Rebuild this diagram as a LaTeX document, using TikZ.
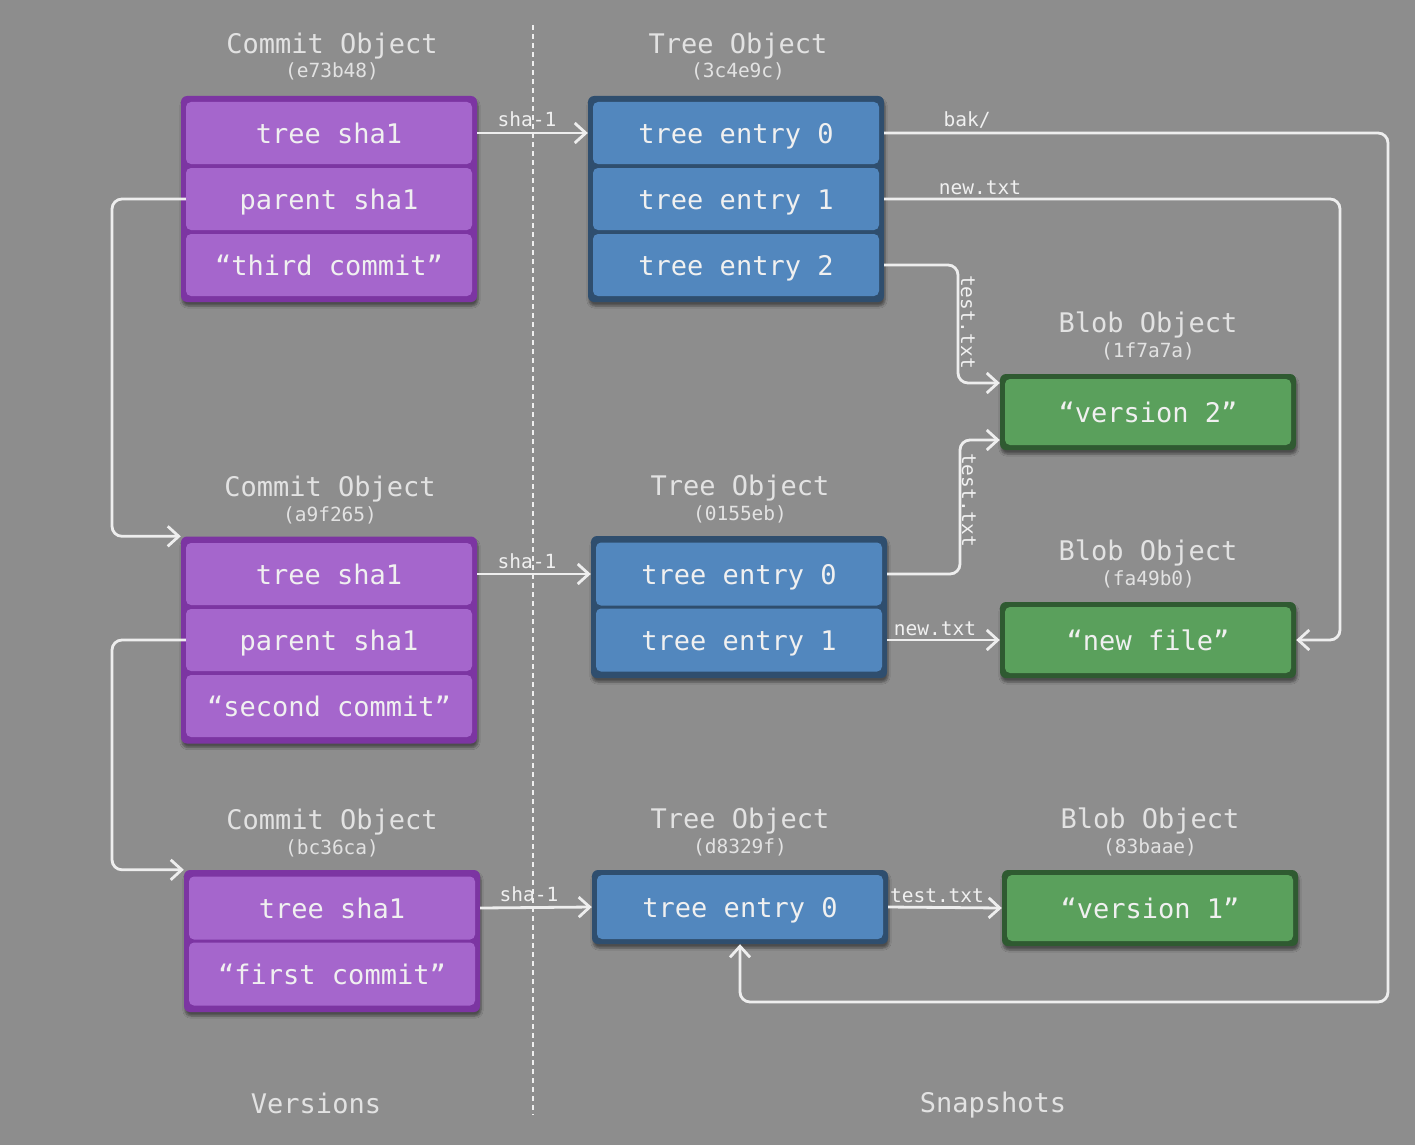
\documentclass[tikz,border=0pt]{standalone}
\usepackage{fontspec}
\setmainfont{DejaVu Sans Mono}
\usetikzlibrary{arrows.meta,shadows.blur}
\definecolor{bgc}{HTML}{8D8D8D}
\definecolor{pcellc}{HTML}{A566CC}
\definecolor{pdarkc}{HTML}{7C35A2}
\definecolor{bcellc}{HTML}{5287BE}
\definecolor{bdarkc}{HTML}{2F4E6E}
\definecolor{gcellc}{HTML}{5AA05C}
\definecolor{gdarkc}{HTML}{2F5A31}
\definecolor{txtc}{HTML}{F0F0F0}
\definecolor{ttlc}{HTML}{E2E2E2}
\definecolor{linec}{HTML}{EEEEEE}
\begin{document}
\begin{tikzpicture}[x=1pt,y=-1pt,
  box/.style={rounded corners=6pt, minimum width=296pt, inner sep=0pt, draw=none,
    blur shadow={shadow xshift=1pt, shadow yshift=-4pt, shadow blur steps=6, shadow opacity=45}},
  pbox/.style={box, fill=pdarkc},
  bbox/.style={box, fill=bdarkc},
  gbox/.style={box, fill=gdarkc},
  cell/.style={rounded corners=5pt, minimum width=286pt, inner sep=0pt, text=txtc,
    font=\fontsize{27}{30}\selectfont, text height=24pt, text depth=3pt},
  pcell/.style={cell, fill=pcellc},
  bcell/.style={cell, fill=bcellc},
  gcell/.style={cell, fill=gcellc},
  ttl/.style={text=ttlc, inner sep=0pt, font=\fontsize{27}{30}\selectfont, text height=24pt, text depth=3pt},
  hsh/.style={text=ttlc, inner sep=0pt, font=\fontsize{19.5}{22}\selectfont, text height=16pt, text depth=2pt},
  lbl/.style={text=txtc, inner sep=0pt, font=\fontsize{19.5}{22}\selectfont, text height=16pt, text depth=2pt},
  conn/.style={draw=linec, line width=2.8pt, rounded corners=10pt,
    -{Straight Barb[length=11pt, width=20pt, line width=2.8pt]}},
  divider/.style={draw=linec, line width=2.6pt, dash pattern=on 5pt off 4pt}
]
\useasboundingbox (0,0) rectangle (1415,1145);
\fill[bgc] (0,0) rectangle (1415,1145);

% divider
\draw[divider] (533,25) -- (533,1115);

% ---------- Commit 1
\node[ttl] (c1ttl) at (332,43) {Commit Object};
\node[hsh] (c1hsh) at (332,71) {(e73b48)};
\node[pbox, minimum height=206pt] (c1) at (329,199) {};
\node[pcell, minimum height=62pt] (c1a) at (329,133) {tree sha1};
\node[pcell, minimum height=62pt] (c1b) at (329,199) {parent sha1};
\node[pcell, minimum height=62pt] (c1c) at (329,265) {“third commit”};

% ---------- Tree 1
\node[ttl] (t1ttl) at (738,43) {Tree Object};
\node[hsh] (t1hsh) at (738,71) {(3c4e9c)};
\node[bbox, minimum height=206pt] (t1) at (736,199) {};
\node[bcell, minimum height=62pt] (t1a) at (736,133) {tree entry 0};
\node[bcell, minimum height=62pt] (t1b) at (736,199) {tree entry 1};
\node[bcell, minimum height=62pt] (t1c) at (736,265) {tree entry 2};

% ---------- Blob 1f7a7a
\node[ttl] (b1ttl) at (1148,322) {Blob Object};
\node[hsh] (b1hsh) at (1148,350) {(1f7a7a)};
\node[gbox, minimum height=76pt] (b1) at (1148,412) {};
\node[gcell, minimum height=66pt] (b1a) at (1148,412) {“version 2”};

% ---------- Commit 2
\node[ttl] (c2ttl) at (330,486) {Commit Object};
\node[hsh] (c2hsh) at (330,514) {(a9f265)};
\node[pbox, minimum height=207pt] (c2) at (329,640) {};
\node[pcell, minimum height=62pt] (c2a) at (329,574) {tree sha1};
\node[pcell, minimum height=62pt] (c2b) at (329,640) {parent sha1};
\node[pcell, minimum height=62pt] (c2c) at (329,706) {“second commit”};

% ---------- Tree 2
\node[ttl] (t2ttl) at (740,485) {Tree Object};
\node[hsh] (t2hsh) at (740,513) {(0155eb)};
\node[bbox, minimum height=142pt] (t2) at (739,607) {};
\node[bcell, minimum height=63pt] (t2a) at (739,574) {tree entry 0};
\node[bcell, minimum height=63pt] (t2b) at (739,640) {tree entry 1};

% ---------- Blob fa49b0
\node[ttl] (b2ttl) at (1148,550) {Blob Object};
\node[hsh] (b2hsh) at (1148,578) {(fa49b0)};
\node[gbox, minimum height=76pt] (b2) at (1148,640) {};
\node[gcell, minimum height=66pt] (b2a) at (1148,640) {“new file”};

% ---------- Commit 3
\node[ttl] (c3ttl) at (332,819) {Commit Object};
\node[hsh] (c3hsh) at (332,847) {(bc36ca)};
\node[pbox, minimum height=142pt] (c3) at (332,941) {};
\node[pcell, minimum height=63pt] (c3a) at (332,908) {tree sha1};
\node[pcell, minimum height=63pt] (c3b) at (332,974) {“first commit”};

% ---------- Tree 3
\node[ttl] (t3ttl) at (740,818) {Tree Object};
\node[hsh] (t3hsh) at (740,846) {(d8329f)};
\node[bbox, minimum height=74pt] (t3) at (740,907) {};
\node[bcell, minimum height=64pt] (t3a) at (740,907) {tree entry 0};

% ---------- Blob 83baae
\node[ttl] (b3ttl) at (1150,818) {Blob Object};
\node[hsh] (b3hsh) at (1150,846) {(83baae)};
\node[gbox, minimum height=76pt] (b3) at (1150,908) {};
\node[gcell, minimum height=66pt] (b3a) at (1150,908) {“version 1”};

% ---------- bottom captions
\node[ttl] (vers) at (316,1103) {Versions};
\node[ttl] (snap) at (993,1102) {Snapshots};

% ---------- connectors
\coordinate (lx) at (112,0);
\coordinate (bakx) at (1388,1002);
\coordinate (newx) at (1340,0);
\coordinate (tt1) at (958,383);
\coordinate (tt2) at (960,440);

% sha-1 arrows
\draw[conn] (c1a.east -| c1.east) -- (t1a.west -| t1.west);
\draw[conn] (c2a.east -| c2.east) -- (t2a.west -| t2.west);
\draw[conn] (c3a.east -| c3.east) -- (t3a.west -| t3.west);
\node[lbl] (s1) at (527,120) {sha-1};
\node[lbl] (s2) at (527,561) {sha-1};
\node[lbl] (s3) at (529,894) {sha-1};

% parent arrows
\draw[conn] (c1b.west) -| (lx |- c2.north west) -- (c2.north west);
\draw[conn] (c2b.west) -| (lx |- c3.north west) -- (c3.north west);

% bak/
\draw[conn] (t1a.east -| t1.east) -| (bakx) -| (t3.south);
\node[lbl] (lbak) at (967,120) {bak/};

% new.txt (top)
\draw[conn] (t1b.east -| t1.east) -| (newx |- b2.east) -- (b2.east);
\node[lbl] (lnew1) at (980,187) {new.txt};

% test.txt from tree 1 entry 2
\draw[conn] (t1c.east -| t1.east) -| (tt1) -- (tt1 -| b1.west);
\node[lbl, rotate=-90] (ltest1) at (968,322) {test.txt};

% test.txt from tree 2 entry 0
\draw[conn] (t2a.east -| t2.east) -| (tt2) -- (tt2 -| b1.west);
\node[lbl, rotate=-90] (ltest2) at (969,500) {test.txt};

% new.txt (tree 2)
\draw[conn] (t2b.east -| t2.east) -- (b2.west);
\node[lbl] (lnew2) at (935,628) {new.txt};

% test.txt (tree 3)
\draw[conn] (t3.east) -- (b3.west);
\node[lbl] (ltest3) at (937,895) {test.txt};
\end{tikzpicture}
\end{document}
